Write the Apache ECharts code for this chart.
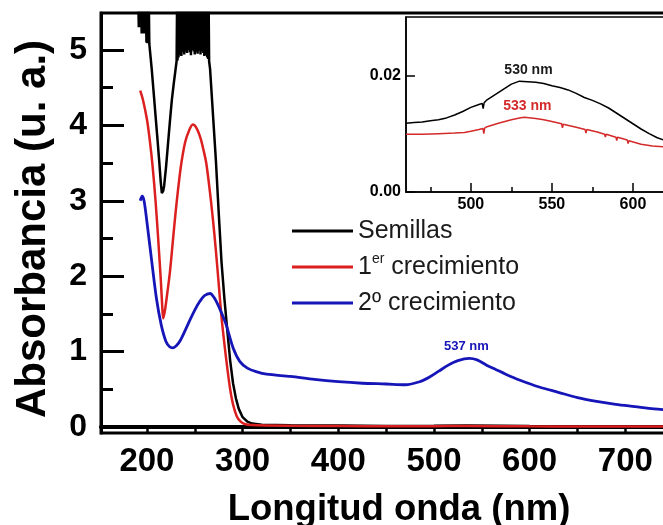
<!DOCTYPE html>
<html>
<head>
<meta charset="utf-8">
<script src="https://cdn.jsdelivr.net/npm/echarts@6/dist/echarts.min.js"></script>
<style>
  html, body { margin: 0; padding: 0; background: #fff; }
  #chart { width: 663px; height: 525px; }
</style>
</head>
<body>
<div id="chart"></div>
<script>
// UV-Vis absorbance spectra (main panel)
const seriesNames = ['Semillas', '1er crecimiento', '2º crecimiento'];

// Semillas saturates the detector below ~265 nm, so the trace is a noisy band there
const wlSemillas = [191, 191.5, 192, 192.5, 193, 193.5, 194, 194.5, 195, 195.5, 196, 196.5, 197, 197.5, 198, 198.5, 199, 199.5, 200, 200.5, 201, 201.5, 202, 202.5, 203,
  205, 207, 209, 211, 213, 214.5, 215.6, 217, 218, 220, 222, 224, 226, 228, 230,
  231, 231.5, 232, 232.5, 233, 233.5, 234, 234.5, 235, 235.5, 236, 236.5, 237, 237.5, 238, 238.5, 239, 239.5, 240, 240.5,
  241, 241.5, 242, 242.5, 243, 243.5, 244, 244.5, 245, 245.5, 246, 246.5, 247, 247.5, 248, 248.5, 249, 249.5, 250, 250.5,
  251, 251.5, 252, 252.5, 253, 253.5, 254, 254.5, 255, 255.5, 256, 256.5, 257, 257.5, 258, 258.5, 259, 259.5, 260, 260.5,
  261, 261.5, 262, 262.5, 263, 263.5, 264, 264.5, 265,
  266, 268, 270, 272, 275, 278, 281, 284, 287, 290, 293, 296, 300, 305, 310, 320, 350, 400, 450, 500, 535, 570, 600, 650, 700, 750, 800];
const absSemillas = [5.6, 5.3, 5.6, 5.3, 5.6, 5.3, 5.6, 5.22, 5.6, 5.22, 5.6, 5.22, 5.6, 5.22, 5.6, 5.22, 5.6, 5.1, 5.6, 5.09, 5.6, 5.09, 5.6, 5.08, 5.06,
  4.75, 4.44, 4.13, 3.82, 3.5, 3.24, 3.1, 3.13, 3.2, 3.45, 3.75, 4.05, 4.33, 4.55, 4.75,
  4.85, 5.6, 4.86, 5.6, 4.9, 5.6, 4.93, 5.6, 4.95, 5.6, 4.92, 5.6, 4.97, 5.6, 5.0, 5.6, 4.94, 5.6, 4.98, 5.6,
  5.03, 5.6, 4.96, 5.6, 5.0, 5.6, 5.05, 5.6, 4.97, 5.6, 4.93, 5.6, 5.0, 5.6, 5.04, 5.6, 4.98, 5.6, 4.94, 5.6,
  5.01, 5.6, 4.97, 5.6, 4.95, 5.6, 5.02, 5.6, 4.99, 5.6, 4.94, 5.6, 4.98, 5.6, 5.03, 5.6, 4.96, 5.6, 4.92, 5.6,
  4.97, 5.6, 4.93, 5.6, 4.9, 5.6, 4.88, 5.6, 4.85,
  4.75, 4.35, 3.95, 3.55, 2.85, 2.18, 1.7, 1.28, 0.88, 0.58, 0.38, 0.24, 0.13, 0.07, 0.045, 0.03, 0.022, 0.018, 0.013, 0.0145, 0.019, 0.016, 0.0117, 0.007, 0.005, 0.004, 0.003];

const wlCrec1 = [193, 196, 200, 203, 206, 209, 212, 214.5, 216, 217, 218.5, 220, 224, 227, 230, 233, 236, 240, 244, 248, 252, 256, 259, 262, 266, 269, 272, 275, 278, 281, 284, 287, 290, 294, 298, 302, 310, 350, 400, 460, 500, 533, 600, 650, 700, 800];
const absCrec1 = [4.46, 4.33, 4.08, 3.8, 3.45, 3.0, 2.45, 1.95, 1.6, 1.44, 1.52, 1.65, 2.05, 2.45, 2.85, 3.2, 3.5, 3.78, 3.93, 4.01, 3.96, 3.83, 3.68, 3.5, 3.1, 2.75, 2.35, 1.9, 1.45, 1.1, 0.78, 0.5, 0.3, 0.14, 0.07, 0.04, 0.025, 0.015, 0.012, 0.0099, 0.0104, 0.0128, 0.0085, 0.007, 0.006, 0.005];

const wlCrec2 = [193, 195, 197, 200, 205, 210, 215, 220, 224, 227, 231, 235, 240, 245, 250, 255, 260, 266, 270, 275, 280, 283, 290, 297, 305, 315, 325, 350, 375, 400, 425, 450, 470, 485, 495, 505, 515, 525, 537, 545, 555, 565, 575, 590, 610, 630, 650, 670, 690, 710, 730, 750, 770, 790, 800];
const absCrec2 = [3.0, 3.06, 3.0, 2.72, 2.2, 1.7, 1.35, 1.13, 1.06, 1.05, 1.08, 1.15, 1.28, 1.42, 1.55, 1.66, 1.74, 1.77, 1.72, 1.6, 1.45, 1.35, 1.05, 0.87, 0.78, 0.73, 0.70, 0.67, 0.63, 0.60, 0.58, 0.57, 0.56, 0.6, 0.66, 0.74, 0.82, 0.88, 0.91, 0.89, 0.82, 0.76, 0.70, 0.62, 0.53, 0.46, 0.39, 0.34, 0.30, 0.27, 0.24, 0.22, 0.20, 0.19, 0.185];

// Plasmon band detail (inset)
const wlInsetSemillas = [460, 465, 470, 475, 480, 485, 490, 495, 500, 505, 507, 507.6, 508.2, 510, 515, 520, 525, 530, 535, 540, 545, 550, 555, 560, 565, 570, 575, 580, 585, 590, 595, 600, 605, 610, 615, 620, 630, 640, 650];
const absInsetSemillas = [0.0118, 0.0119, 0.0120, 0.0122, 0.0124, 0.0127, 0.0132, 0.0138, 0.0145, 0.0150, 0.0152, 0.0143, 0.0153, 0.0158, 0.0167, 0.0176, 0.0185, 0.0190, 0.0189, 0.0188, 0.0186, 0.0182, 0.0179, 0.0175, 0.0169, 0.0162, 0.0157, 0.0151, 0.0144, 0.0135, 0.0126, 0.0117, 0.0108, 0.0100, 0.0093, 0.0088, 0.0080, 0.0074, 0.0070];
const wlInsetCrec1 = [460, 470, 480, 490, 496, 500, 505, 507.5, 508, 508.6, 510, 517, 525, 530, 533, 540, 545, 550, 556, 556.5, 557, 565, 570.5, 571, 571.5, 578, 582.5, 583, 583.5, 589.5, 590, 590.5, 596.5, 597, 597.5, 605, 612, 620, 630, 640, 650];
const absInsetCrec1 = [0.0099, 0.0099, 0.0100, 0.0101, 0.0102, 0.0104, 0.0107, 0.0109, 0.0100, 0.0110, 0.0112, 0.0118, 0.0124, 0.0127, 0.0128, 0.0126, 0.0124, 0.0121, 0.0117, 0.0110, 0.0116, 0.0111, 0.0107, 0.0101, 0.0107, 0.0103, 0.0099, 0.0094, 0.0099, 0.0094, 0.0088, 0.0094, 0.0089, 0.0083, 0.0088, 0.0082, 0.0079, 0.0077, 0.0074, 0.0072, 0.0070];

// Peak wavelengths written next to each band (nm)
const peakCrec2 = 537;
const peakInsetSemillas = 530;
const peakInsetCrec1 = 533;

// Axis ticks and labels
const mainXLabels = [200, 300, 400, 500, 600, 700];
const mainXTicks = [200, 250, 300, 350, 400, 450, 500, 550, 600, 650, 700, 750, 800];
const mainYLabels = [0, 1, 2, 3, 4, 5];
const mainYMinor = [0.5, 1.5, 2.5, 3.5, 4.5];
const insetXLabels = [500, 550, 600];
const insetXMinor = [475, 525, 575, 625];
const insetYLabels = [0, 0.02];

const FONT = 'Liberation Sans, Arial, sans-serif';
const BLACK = '#000000';
const RED = '#dc1f1f';
const BLUE = '#1515b8';
const INSET_RED = '#d42a2a';

const pairs = (xs, ys) => xs.map((x, i) => [x, ys[i]]);
const valueAt = (xs, ys, x) => ys[xs.indexOf(x)];

const chart = echarts.init(document.getElementById('chart'), null, { renderer: 'canvas' });

const mainX = { min: 152, max: 800 };
const mainY = { min: -0.08, max: 5.49 };
const insetX = { min: 460, max: 650 };
const insetY = { min: 0, max: 0.03 };

const option = {
  backgroundColor: '#ffffff',
  animation: false,
  grid: [
    { left: 101, top: 13, width: 620, height: 420, outerBoundsMode: 'none', containLabel: false,
      show: true, borderColor: BLACK, borderWidth: 3, backgroundColor: 'transparent' },
    { left: 406, top: 17, width: 308, height: 175, outerBoundsMode: 'none', containLabel: false,
      show: true, borderColor: BLACK, borderWidth: 1.5, backgroundColor: '#ffffff', z: 5 }
  ],
  legend: {
    data: seriesNames,
    orient: 'vertical',
    left: 287,
    top: 211,
    icon: 'rect',
    itemWidth: 61,
    itemHeight: 3,
    itemGap: 6,
    selectedMode: false,
    textStyle: {
      fontFamily: FONT, fontSize: 25, color: '#1a1a1a', lineHeight: 30,
      rich: {
        sup: { fontFamily: FONT, fontSize: 14, color: '#1a1a1a', verticalAlign: 'top', lineHeight: 16 }
      }
    },
    formatter: name => name === '1er crecimiento' ? '1{sup|er} crecimiento' : name
  },
  xAxis: [
    {
      type: 'value', gridIndex: 0, position: 'bottom', min: mainX.min, max: mainX.max,
      axisLine: { show: true, lineStyle: { color: BLACK, width: 4 } },
      axisTick: { show: true, inside: false, length: 5, customValues: mainXTicks, lineStyle: { color: BLACK, width: 2.5 } },
      axisLabel: { show: true, customValues: mainXLabels, margin: 12, fontFamily: FONT, fontSize: 33, fontWeight: 'bold', color: BLACK },
      splitLine: { show: false }
    },
    {
      type: 'value', gridIndex: 1, position: 'bottom', min: insetX.min, max: insetX.max,
      axisLine: { show: true, lineStyle: { color: BLACK, width: 1.5 } },
      axisTick: { show: true, inside: true, length: 9, customValues: insetXLabels, lineStyle: { color: BLACK, width: 1.5 } },
      axisLabel: { show: true, customValues: insetXLabels, margin: 5, fontFamily: FONT, fontSize: 16, fontWeight: 'bold', color: BLACK },
      splitLine: { show: false }, z: 6
    },
    {
      type: 'value', gridIndex: 1, position: 'bottom', min: insetX.min, max: insetX.max,
      axisLine: { show: false },
      axisTick: { show: true, inside: true, length: 5, customValues: insetXMinor, lineStyle: { color: BLACK, width: 1.5 } },
      axisLabel: { show: false },
      splitLine: { show: false }, z: 6
    }
  ],
  yAxis: [
    {
      type: 'value', gridIndex: 0, position: 'left', min: mainY.min, max: mainY.max,
      axisLine: { show: true, lineStyle: { color: BLACK, width: 3 } },
      axisTick: { show: true, inside: true, length: 23, customValues: mainYLabels, lineStyle: { color: BLACK, width: 3 } },
      axisLabel: { show: true, customValues: mainYLabels, margin: 14, fontFamily: FONT, fontSize: 32, fontWeight: 'bold', color: BLACK },
      splitLine: { show: false }
    },
    {
      type: 'value', gridIndex: 0, position: 'left', min: mainY.min, max: mainY.max,
      axisLine: { show: false },
      axisTick: { show: true, inside: true, length: 12, customValues: mainYMinor, lineStyle: { color: BLACK, width: 3 } },
      axisLabel: { show: false },
      splitLine: { show: false }
    },
    {
      type: 'value', gridIndex: 1, position: 'left', min: insetY.min, max: insetY.max,
      axisLine: { show: true, lineStyle: { color: BLACK, width: 1.5 } },
      axisTick: { show: true, inside: true, length: 9, customValues: insetYLabels, lineStyle: { color: BLACK, width: 1.5 } },
      axisLabel: { show: true, customValues: insetYLabels, margin: 5, fontFamily: FONT, fontSize: 16, fontWeight: 'bold', color: BLACK,
        formatter: v => v.toFixed(2) },
      splitLine: { show: false }, z: 6
    }
  ],
  series: [
    {
      name: seriesNames[0], type: 'line', xAxisIndex: 0, yAxisIndex: 0, clip: true,
      data: pairs(wlSemillas, absSemillas), showSymbol: false, symbol: 'none',
      lineStyle: { color: BLACK, width: 2.5, join: 'bevel' }, itemStyle: { color: BLACK }, z: 3
    },
    {
      name: seriesNames[1], type: 'line', xAxisIndex: 0, yAxisIndex: 0, clip: true, smooth: 0.3,
      data: pairs(wlCrec1, absCrec1), showSymbol: false, symbol: 'none',
      lineStyle: { color: RED, width: 2.5 }, itemStyle: { color: RED }, z: 3
    },
    {
      name: seriesNames[2], type: 'line', xAxisIndex: 0, yAxisIndex: 0, clip: true, smooth: 0.3,
      data: pairs(wlCrec2, absCrec2), showSymbol: false, symbol: 'none',
      lineStyle: { color: BLUE, width: 2.8 }, itemStyle: { color: BLUE }, z: 3,
      markPoint: {
        symbol: 'circle', symbolSize: 0, silent: true,
        data: [{ coord: [peakCrec2, valueAt(wlCrec2, absCrec2, peakCrec2)] }],
        label: { show: true, position: 'top', distance: 5, offset: [-3, 0], formatter: peakCrec2 + ' nm',
          fontFamily: FONT, fontSize: 13, fontWeight: 'bold', color: BLUE }
      }
    },
    {
      name: 'inset-semillas', type: 'line', xAxisIndex: 1, yAxisIndex: 2, clip: true,
      data: pairs(wlInsetSemillas, absInsetSemillas), showSymbol: false, symbol: 'none',
      lineStyle: { color: BLACK, width: 1.5 }, z: 7,
      markPoint: {
        symbol: 'circle', symbolSize: 0, silent: true,
        data: [{ coord: [peakInsetSemillas, valueAt(wlInsetSemillas, absInsetSemillas, peakInsetSemillas)] }],
        label: { show: true, position: 'top', distance: 4, offset: [9, 0], formatter: peakInsetSemillas + ' nm',
          fontFamily: FONT, fontSize: 14, fontWeight: 'bold', color: '#1a1a1a' }
      }
    },
    {
      name: 'inset-crec1', type: 'line', xAxisIndex: 1, yAxisIndex: 2, clip: true,
      data: pairs(wlInsetCrec1, absInsetCrec1), showSymbol: false, symbol: 'none',
      lineStyle: { color: INSET_RED, width: 1.5 }, z: 7,
      markPoint: {
        symbol: 'circle', symbolSize: 0, silent: true,
        data: [{ coord: [peakInsetCrec1, valueAt(wlInsetCrec1, absInsetCrec1, peakInsetCrec1)] }],
        label: { show: true, position: 'top', distance: 4, offset: [3, 0], formatter: peakInsetCrec1 + ' nm',
          fontFamily: FONT, fontSize: 14, fontWeight: 'bold', color: INSET_RED }
      }
    }
  ],
  graphic: [
    {
      type: 'text', x: 33, y: 229, rotation: Math.PI / 2, z: 10,
      style: { text: 'Absorbancia (u. a.)', fontFamily: FONT, fontSize: 42, fontWeight: 'bold', fill: BLACK,
        textAlign: 'center', textVerticalAlign: 'middle' }
    },
    {
      type: 'text', x: 399, y: 510, z: 10,
      style: { text: 'Longitud onda (nm)', fontFamily: FONT, fontSize: 36.5, fontWeight: 'bold', fill: BLACK,
        textAlign: 'center', textVerticalAlign: 'middle' }
    }
  ]
};

chart.setOption(option);
</script>
</body>
</html>
